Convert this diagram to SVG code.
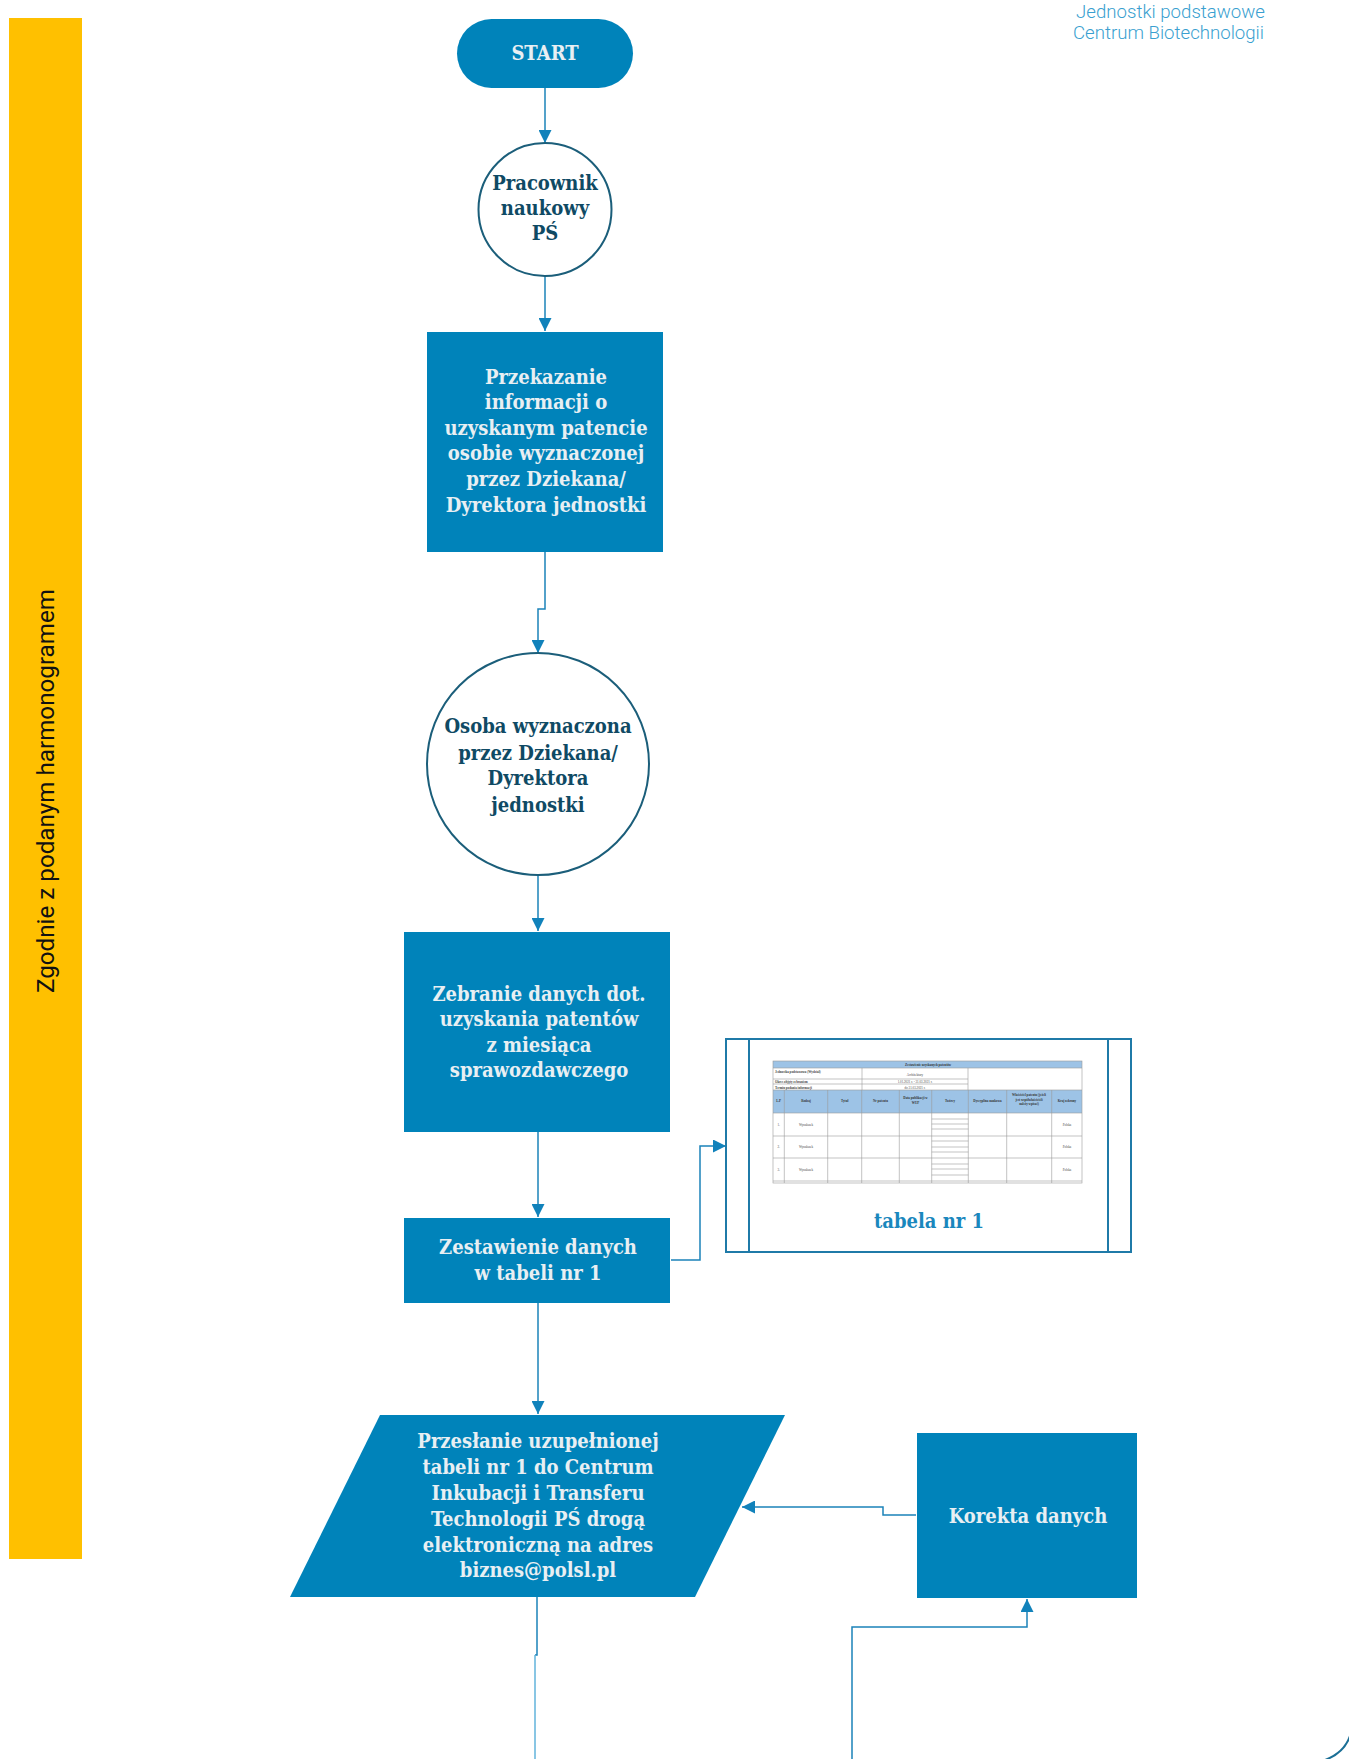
<svg xmlns="http://www.w3.org/2000/svg" width="1349" height="1759" viewBox="0 0 1349 1759">
<style>
.box{fill:#0083ba;}
.ring{fill:#ffffff;stroke:#1b5e7a;stroke-width:2;}
.lt{font-family:"DejaVu Serif Condensed","DejaVu Serif",serif;font-stretch:condensed;font-weight:bold;font-size:20px;fill:#e8eff3;text-anchor:middle;}
.dk{font-family:"DejaVu Serif Condensed","DejaVu Serif",serif;font-stretch:condensed;font-weight:bold;font-size:20px;fill:#0f4a64;text-anchor:middle;}
.con{fill:none;stroke:#1b83b9;stroke-width:1.5;}
.conl{fill:none;stroke:#62b3db;stroke-width:1.5;}
.hdr{font-family:"Roboto","Liberation Sans",sans-serif;font-weight:300;font-size:19px;fill:#3a9fd0;text-anchor:end;}
.tb{font-family:"Liberation Serif",serif;font-size:3.2px;fill:#444;}
.tbb{font-family:"Liberation Serif",serif;font-size:3.2px;font-weight:bold;fill:#333;text-anchor:middle;}
.tl{stroke:#9a9a9a;stroke-width:0.6;fill:none;}
</style>
<defs>
<marker id="arr" markerUnits="userSpaceOnUse" markerWidth="13" markerHeight="13" refX="13" refY="6.5" orient="auto">
<path d="M0,0 L13,6.5 L0,13 z" fill="#1182bb"/>
</marker>
</defs>

<rect x="0" y="0" width="1349" height="1759" fill="#ffffff"/>

<g id="header">
<text class="hdr" x="1265" y="18" textLength="189" lengthAdjust="spacingAndGlyphs">Jednostki podstawowe</text>
<text class="hdr" x="1264" y="39" textLength="191" lengthAdjust="spacingAndGlyphs">Centrum Biotechnologii</text>
</g>

<g id="lane">
<rect x="9" y="18" width="73" height="1541" fill="#ffc000"/>
<text transform="translate(54,791) rotate(-90)" font-family="Roboto, 'Liberation Sans', sans-serif" font-size="24" fill="#111" text-anchor="middle" textLength="404" lengthAdjust="spacingAndGlyphs">Zgodnie z podanym harmonogramem</text>
</g>

<g id="connectors">
<path class="con" d="M545 88 V143" marker-end="url(#arr)"/>
<path class="con" d="M545 276 V331" marker-end="url(#arr)"/>
<path class="con" d="M545 552 V609 H538 V653" marker-end="url(#arr)"/>
<path class="con" d="M538 875 V931" marker-end="url(#arr)"/>
<path class="con" d="M538 1132 V1217" marker-end="url(#arr)"/>
<path class="con" d="M671 1260 H700 V1146 H726" marker-end="url(#arr)"/>
<path class="con" d="M538 1303 V1414" marker-end="url(#arr)"/>
<path class="con" d="M916 1515 H883 V1507 H742" marker-end="url(#arr)"/>
<path class="con" d="M852 1759 V1627 H1027 V1599" marker-end="url(#arr)"/>
<path class="con" d="M537 1597 V1655 H535"/>
<path class="conl" d="M535 1655 V1759"/>
</g>

<g id="start">
<rect class="box" x="457" y="19" width="176" height="69" rx="34.5"/>
<text class="lt" x="545" y="60">START</text>
</g>

<g id="pracownik">
<circle class="ring" cx="545" cy="209.5" r="66.5"/>
<text class="dk" x="545" y="190">Pracownik</text>
<text class="dk" x="545" y="215">naukowy</text>
<text class="dk" x="545" y="240">PŚ</text>
</g>

<g id="przekazanie">
<rect class="box" x="427" y="332" width="236" height="220"/>
<text class="lt" x="546" y="384">Przekazanie</text>
<text class="lt" x="546" y="409">informacji o</text>
<text class="lt" x="546" y="435">uzyskanym patencie</text>
<text class="lt" x="546" y="460">osobie wyznaczonej</text>
<text class="lt" x="546" y="486">przez Dziekana/</text>
<text class="lt" x="546" y="512">Dyrektora jednostki</text>
</g>

<g id="osoba">
<circle class="ring" cx="538" cy="764" r="111"/>
<text class="dk" x="538" y="733">Osoba wyznaczona</text>
<text class="dk" x="538" y="760">przez Dziekana/</text>
<text class="dk" x="538" y="785">Dyrektora</text>
<text class="dk" x="538" y="812">jednostki</text>
</g>

<g id="zebranie">
<rect class="box" x="404" y="932" width="266" height="200"/>
<text class="lt" x="539" y="1001">Zebranie danych dot.</text>
<text class="lt" x="539" y="1026">uzyskania patentów</text>
<text class="lt" x="539" y="1052">z miesiąca</text>
<text class="lt" x="539" y="1077">sprawozdawczego</text>
</g>

<g id="zestawienie">
<rect class="box" x="404" y="1218" width="266" height="85"/>
<text class="lt" x="538" y="1254">Zestawienie danych</text>
<text class="lt" x="538" y="1280">w tabeli nr 1</text>
</g>

<g id="tabela">
<rect x="726" y="1039" width="405" height="213" fill="#ffffff" stroke="#1f7aa8" stroke-width="2"/>
<line x1="749" y1="1039" x2="749" y2="1252" stroke="#1f7aa8" stroke-width="2"/>
<line x1="1108" y1="1039" x2="1108" y2="1252" stroke="#1f7aa8" stroke-width="2"/>
<g id="tabela-img">
<rect x="773" y="1061" width="309" height="7" fill="#9dc3e6"/>
<rect x="773" y="1090" width="309" height="23" fill="#9dc3e6"/>
<rect x="773" y="1061" width="309" height="122" class="tl"/>
<line class="tl" x1="773" y1="1068" x2="1082" y2="1068"/>
<line class="tl" x1="773" y1="1079" x2="968" y2="1079"/>
<line class="tl" x1="773" y1="1084" x2="968" y2="1084"/>
<line class="tl" x1="773" y1="1090" x2="1082" y2="1090"/>
<line class="tl" x1="862" y1="1068" x2="862" y2="1090"/>
<line class="tl" x1="968" y1="1068" x2="968" y2="1090"/>
<line class="tl" x1="773" y1="1113" x2="1082" y2="1113"/>
<line class="tl" x1="773" y1="1136" x2="1082" y2="1136"/>
<line class="tl" x1="773" y1="1158" x2="1082" y2="1158"/>
<line class="tl" x1="773" y1="1181" x2="1082" y2="1181"/>
<path class="tl" d="M784.3 1090 V1183 M827.7 1090 V1183 M861.7 1090 V1183 M899.3 1090 V1183 M931.7 1090 V1183 M968.3 1090 V1183 M1006.7 1090 V1183 M1051.7 1090 V1183"/>
<path class="tl" d="M931.7 1119 H968.3 M931.7 1124 H968.3 M931.7 1129 H968.3 M931.7 1141 H968.3 M931.7 1147 H968.3 M931.7 1152 H968.3 M931.7 1164 H968.3 M931.7 1169 H968.3 M931.7 1175 H968.3"/>
<text class="tbb" x="928" y="1066">Zestawienie uzyskanych patentów</text>
<text class="tb" x="775" y="1073" font-weight="bold">Jednostka podstawowa (Wydział)</text>
<text class="tb" x="915" y="1076" text-anchor="middle">Architektury</text>
<text class="tb" x="775" y="1082.5" font-weight="bold">Okres objęty zebraniem</text>
<text class="tb" x="915" y="1082.5" text-anchor="middle">1.01.2021 r. - 31.03.2021 r.</text>
<text class="tb" x="775" y="1088.5" font-weight="bold">Termin podania informacji</text>
<text class="tb" x="915" y="1088.5" text-anchor="middle">do 31.03.2021 r.</text>
<text class="tbb" x="778.6" y="1102">L.P</text>
<text class="tbb" x="806" y="1102">Rodzaj</text>
<text class="tbb" x="844.7" y="1102">Tytuł</text>
<text class="tbb" x="880.5" y="1102">Nr patentu</text>
<text class="tbb" x="915.5" y="1099">Data publikacji w</text>
<text class="tbb" x="915.5" y="1104">WUP</text>
<text class="tbb" x="950" y="1102">Twórcy</text>
<text class="tbb" x="987.5" y="1102">Dyscyplina naukowa</text>
<text class="tbb" x="1029" y="1096">Właściciel patentu (jeżeli</text>
<text class="tbb" x="1029" y="1100.5">jest współwłaścicieli</text>
<text class="tbb" x="1029" y="1105">należy wpisać)</text>
<text class="tbb" x="1067" y="1102">Kraj ochrony</text>
<text class="tb" x="778.6" y="1125.5" text-anchor="middle">1.</text>
<text class="tb" x="806" y="1125.5" text-anchor="middle">Wynalazek</text>
<text class="tb" x="1067" y="1125.5" text-anchor="middle">Polska</text>
<text class="tb" x="778.6" y="1148" text-anchor="middle">2.</text>
<text class="tb" x="806" y="1148" text-anchor="middle">Wynalazek</text>
<text class="tb" x="1067" y="1148" text-anchor="middle">Polska</text>
<text class="tb" x="778.6" y="1170.5" text-anchor="middle">3.</text>
<text class="tb" x="806" y="1170.5" text-anchor="middle">Wynalazek</text>
<text class="tb" x="1067" y="1170.5" text-anchor="middle">Polska</text>
</g>
<text x="929" y="1228" font-family="'DejaVu Serif Condensed','DejaVu Serif',serif" font-stretch="condensed" font-weight="bold" font-size="20" fill="#1a87bd" text-anchor="middle">tabela nr 1</text>
</g>

<g id="przeslanie">
<polygon class="box" points="380,1415 785,1415 695,1597 290,1597"/>
<text class="lt" x="538" y="1448">Przesłanie uzupełnionej</text>
<text class="lt" x="538" y="1474">tabeli nr 1 do Centrum</text>
<text class="lt" x="538" y="1500">Inkubacji i Transferu</text>
<text class="lt" x="538" y="1526">Technologii PŚ drogą</text>
<text class="lt" x="538" y="1552">elektroniczną na adres</text>
<text class="lt" x="538" y="1577">biznes@polsl.pl</text>
</g>

<g id="korekta">
<rect class="box" x="917" y="1433" width="220" height="165"/>
<text class="lt" x="1028" y="1523">Korekta danych</text>
</g>

<path d="M1325 1760 Q1344 1753 1350 1736" fill="none" stroke="#1b6f96" stroke-width="2"/>
</svg>
